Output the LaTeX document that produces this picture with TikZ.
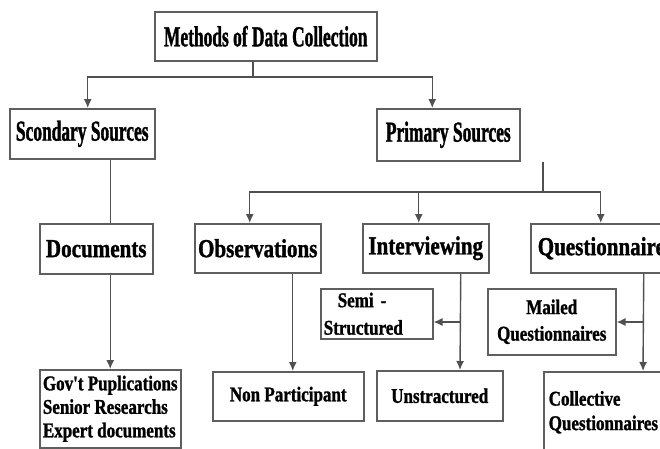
\documentclass[tikz,border=0pt]{standalone}
\usepackage{fontspec}
\setmainfont{Liberation Serif}
\newfontfamily\headfont[FakeStretch=0.6, FakeBold=1.2]{Liberation Serif}
\newfontfamily\boxfont[FakeStretch=0.81, FakeBold=1.2]{Liberation Serif}
\usetikzlibrary{arrows.meta}
\definecolor{boxline}{HTML}{5E5E5E}
\definecolor{wiregray}{HTML}{505050}
\tikzset{
 box/.style={draw=boxline, line width=1.5pt, fill=white, inner sep=2pt, anchor=north west},
 headtxt/.style={font=\headfont\bfseries\fontsize{29}{31}\selectfont},
 midtxt/.style={font=\boxfont\bfseries\fontsize{26}{28}\selectfont},
 lowtxt/.style={font=\boxfont\bfseries\fontsize{21}{23.5}\selectfont},
 wire/.style={draw=wiregray, line width=1.4pt},
}
\begin{document}
\begin{tikzpicture}[x=1pt, y=-1pt, >={Latex[length=9pt,width=8pt]}]
 \clip (0,0) rectangle (660,448);
 \fill[white] (0,0) rectangle (660,448);
 \node[box, headtxt, minimum width=222, minimum height=49] (methods) at (154,11) {Methods of Data Collection};
 \node[box, headtxt, minimum width=145, minimum height=50] (sec) at (9,108) {Scondary Sources};
 \node[box, headtxt, minimum width=143, minimum height=52] (prim) at (376,108) {Primary Sources};
 \node[box, midtxt, minimum width=113, minimum height=50] (docs) at (39,223) {Documents};
 \node[box, midtxt, minimum width=126, minimum height=49] (obs) at (194,223) {Observations};
 \node[box, midtxt, minimum width=126, minimum height=49] (intv) at (362,223) {Interviewing};
 \node[box, midtxt, minimum height=49, inner xsep=7, text width=140, align=left] (quest) at (530,223) {Questionnaire};
 \node[box, lowtxt, minimum height=50, inner xsep=3, text width=106, align=left] (semi) at (320,288) {\hspace*{14pt}Semi -\\[4pt]Structured};
 \node[box, lowtxt, minimum width=128, minimum height=66, align=center] (mail) at (487,288) {Mailed\\[3pt]Questionnaires};
 \node[box, lowtxt, minimum width=141, minimum height=78, inner xsep=2, align=left] (gov) at (39,369) {Gov't Puplications\\Senior Researchs\\Expert documents};
 \node[box, lowtxt, minimum width=151, minimum height=49] (nonp) at (212,371) {Non Participant};
 \node[box, lowtxt, minimum width=126, minimum height=50] (unst) at (376,370) {Unstractured};
 \node[box, lowtxt, minimum height=81, inner xsep=5, text width=150, align=left] (coll) at (543,371) {Collective\\[1pt]Questionnaires};
 \coordinate (topsplit) at (253,77);
 \coordinate (primsplit) at (543,192);
 \coordinate (intvsplit) at (460,322);
 \coordinate (questsplit) at (643,322);
 \draw[wire] (methods.south -| topsplit) -- (topsplit);
 \draw[wire,->] (topsplit) -| ([xshift=5.5]sec.north);
 \draw[wire,->] (topsplit) -| ([xshift=-16]prim.north);
 \draw[wire] (sec.south -| gov.north) -- (docs.north -| gov.north);
 \draw[wire,->] (docs.south -| gov.north) -- (gov.north);
 \draw[wire] (prim.south -| primsplit) -- (primsplit);
 \draw[wire,->] (primsplit) -| ([xshift=-8]obs.north);
 \draw[wire,->] (primsplit) -| ([xshift=-7]intv.north);
 \draw[wire,->] (primsplit) -| ([xshift=-7]quest.north);
 \draw[wire,->] ([xshift=35]obs.south) -- ([xshift=4.5]nonp.north);
 \draw[wire,->] ([xshift=35]intv.south) -- (intvsplit |- unst.north);
 \draw[wire,->] (intvsplit) -- (intvsplit -| semi.east);
 \draw[wire,->] ([xshift=36]quest.south) -- (questsplit |- coll.north);
 \draw[wire,->] (questsplit) -- (questsplit -| mail.east);
\end{tikzpicture}
\end{document}
